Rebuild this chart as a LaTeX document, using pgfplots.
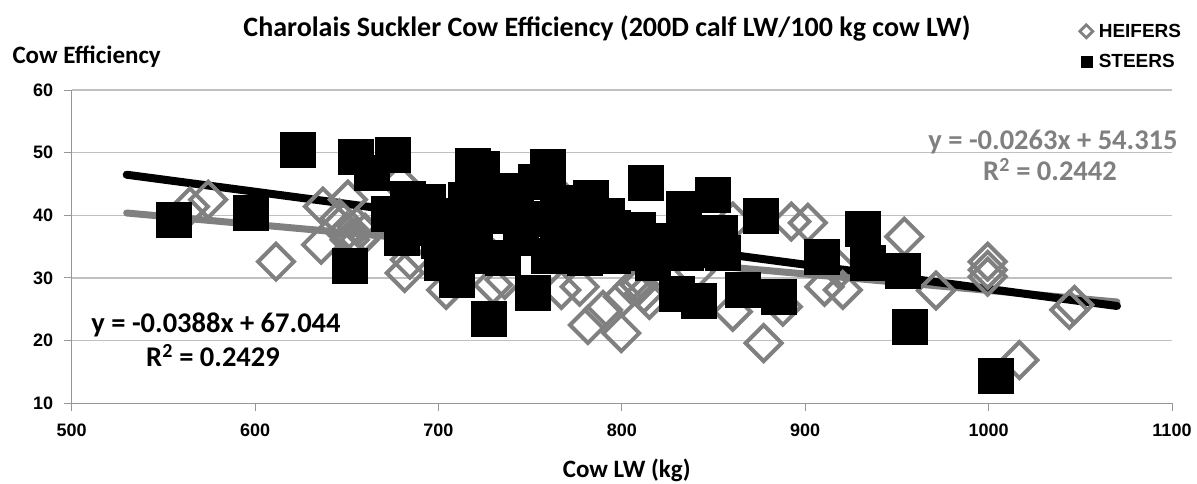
\documentclass[border=0pt]{standalone}
\usepackage{pgfplots}
\pgfplotsset{compat=1.18}
\usepackage{pgfplotstable}
\usepackage{fontspec}
\setmainfont{Carlito}
\newfontfamily\lsans{Liberation Sans}
\definecolor{hgray}{RGB}{128,128,128}
\definecolor{gridc}{RGB}{192,192,192}
\definecolor{axc}{RGB}{150,150,150}

\pgfplotstableread{
x y
564.5 41.4
574.4 42.5
611.4 32.6
637 41.4
636 35.3
650.6 42.5
650 37.4
655.5 38.2
660 37.2
651.6 36.1
657 36.1
646 39.5
681.6 30.8
684.4 32.9
679 45.1
697 38.3
704.2 28.1
720 36
729.8 28.9
736.1 29.7
760 37
767 28.1
768 42.5
777 28.6
781.5 22.5
789.7 24.9
799.7 21.2
800.6 27
806 28.6
809.7 28.9
815 26.5
812 27.5
800 34
840 31
860.5 39
860.5 24.6
877.3 19.6
887.8 25.4
892.4 39
901.4 38.8
910.5 28.6
918.7 31.3
920.5 28.1
954 36.6
971.3 28
999.5 32.6
999.5 31.3
999.5 30.2
1016.8 16.9
1044 24.9
1046.8 25.7
}\heifers

\pgfplotstableread{
x y
555.4 39.3
597.5 40.4
623.4 50.4
651.7 31.9
655 49.3
663.5 46.8
673 40.2
675.3 49.7
683.4 42.7
694 42.1
718.8 47.9
723.4 47.5
733.4 44
752.8 45.4
759.6 47.7
783.2 42.8
813 45.2
808.6 37.7
816.8 32.4
833.7 41
849.6 43.3
853.3 37.3
875.6 39.9
909.2 33.4
931.6 37.8
934 32.4
953 31.2
956.8 22.3
1003.7 14.4
829.7 27.5
841.7 26.4
866 28.1
885.6 27
710 29.7
727.2 23.5
751.6 27.6
701.6 32.5
680 36.5
690 38
700 36
712 35.5
720 38.5
735 40
745 36.5
755 39.5
765 34.5
775 37.5
785 35
795 38
735 33.3
760 33.5
780 33.3
795 33.5
720 33.5
800 36
825 36
835 34
845 34.5
820 34
808 34
742 42
765 42
705 40
770 40.5
792 40
855 34
715 42.5
840 37
}\steers

\begin{document}
\begin{tikzpicture}
\begin{axis}[
  at={(0,0)}, anchor=south west,
  scale only axis, width=1100.3bp, height=313.3bp,
  xmin=500, xmax=1100, ymin=10, ymax=60,
  xtick={500,600,...,1100}, ytick={10,20,...,60},
  axis lines*=left,
  axis line style={axc, line width=1.2bp},
  ymajorgrids, grid style={gridc, line width=1.1bp},
  tick align=outside, major tick length=8bp,
  tick style={axc, line width=1bp},
  /pgf/number format/assume math mode=true,
  /pgf/number format/1000 sep={},
  ticklabel style={font=\lsans\bfseries\fontsize{18bp}{20bp}\selectfont},
  yticklabel style={xshift=-7bp},
  xticklabel style={yshift=-9bp},
  legend style={draw=none, fill=none, at={(axis description cs:0.916,1.218)}, anchor=north west,
    font=\lsans\bfseries\fontsize{19bp}{22bp}\selectfont, row sep=12bp, inner sep=0pt,
    /tikz/every odd column/.append style={column sep=4bp}},
  legend cell align=left,
]
\addlegendimage{only marks, mark=square, mark size=4.6bp, mark options={rotate=45, draw=hgray, fill=white, line width=2.8bp}}
\addlegendentry{HEIFERS}
\addlegendimage{only marks, mark=square*, mark size=5.5bp, mark options={black}}
\addlegendentry{STEERS}

\addplot[forget plot, only marks, mark=square, mark size=12.7bp,
  mark options={rotate=45, draw=hgray, fill=none, line width=4bp}] table {\heifers};
\addplot[forget plot, only marks, mark=square*, mark size=17.5bp,
  mark options={black, draw=black}] table {\steers};
\addplot[forget plot, hgray, line width=7bp, line cap=round] coordinates {(530,40.37) (1070,26.17)};
\addplot[forget plot, black, line width=8bp, line cap=round] coordinates {(530,46.48) (1070,25.53)};
\end{axis}
\node[font=\bfseries\fontsize{28bp}{32bp}\selectfont] at (535.3bp,375.3bp) {Charolais Suckler Cow Efficiency (200D calf LW/100 kg cow LW)};
\node[anchor=west, font=\bfseries\fontsize{25bp}{28bp}\selectfont] at (-62.7bp,346.3bp) {Cow Efficiency};
\node[font=\bfseries\fontsize{25bp}{28bp}\selectfont] at (555bp,-66.7bp) {Cow LW (kg)};
\node[font=\bfseries\fontsize{28.5bp}{32bp}\selectfont] at (144.3bp,78.3bp) {y = -0.0388x + 67.044};
\node[font=\bfseries\fontsize{28.5bp}{32bp}\selectfont] at (141.3bp,47.3bp) {R\textsuperscript{2} = 0.2429};
\node[text=hgray, font=\bfseries\fontsize{28.5bp}{32bp}\selectfont] at (981.3bp,261.3bp) {y = -0.0263x + 54.315};
\node[text=hgray, font=\bfseries\fontsize{28.5bp}{32bp}\selectfont] at (978.3bp,233.3bp) {R\textsuperscript{2} = 0.2442};
\pgfresetboundingbox
\path[use as bounding box] (-71.7bp,-80.7bp) rectangle (1125.3bp,403.3bp);
\end{tikzpicture}
\end{document}
